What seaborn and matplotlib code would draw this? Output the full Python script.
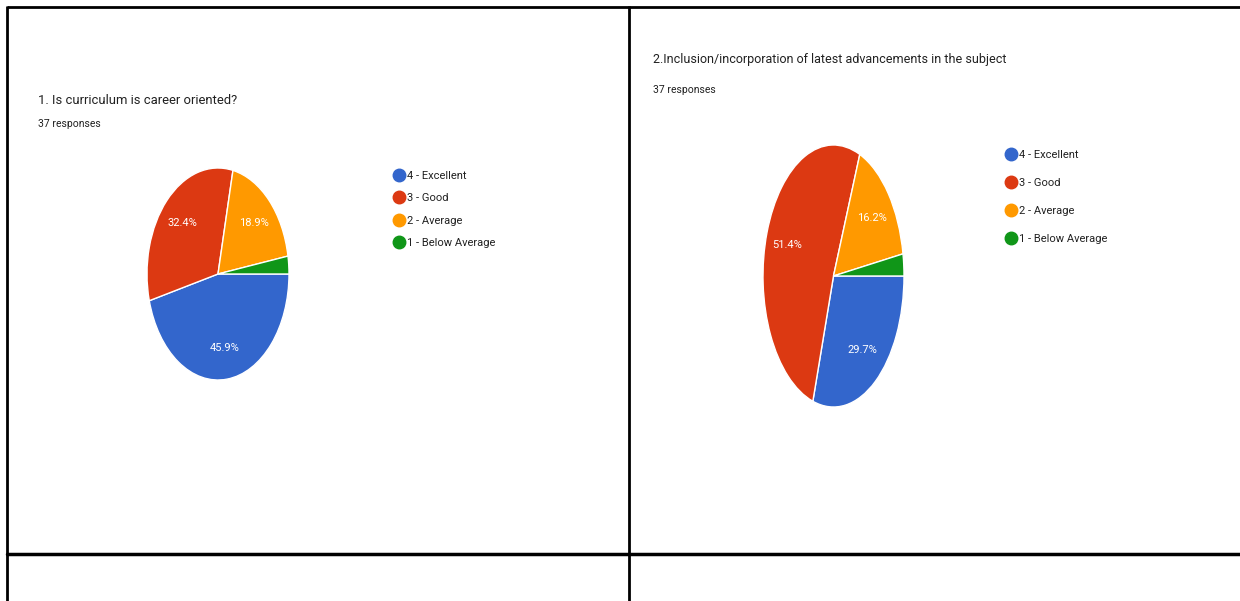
import seaborn as sns
from matplotlib import pyplot as plt
from matplotlib.lines import Line2D

# survey data (37 responses each)
categories = ["4 - Excellent", "3 - Good", "2 - Average", "1 - Below Average"]
q1_title = "1. Is curriculum is career oriented?"
q1_counts = [17, 12, 7, 1]
q2_title = "2.Inclusion/incorporation of latest advancements in the subject"
q2_counts = [11, 19, 6, 1]
responses_label = "37 responses"

W, H = 1240, 601
colors = sns.color_palette(["#3366CC", "#DC3912", "#FF9900", "#109618"])

sns.set_theme(style="white")
plt.rcParams["font.family"] = ["Roboto", "DejaVu Sans"]

fig = plt.figure(figsize=(W / 100, H / 100), dpi=100)
fig.patch.set_facecolor("white")


def px_axes(x0, y0, x1, y1):
    # axes box given in image pixels (origin top-left)
    return fig.add_axes([x0 / W, 1 - y1 / H, (x1 - x0) / W, (y1 - y0) / H])


def pct(p):
    return f"{p:.1f}%" if p > 5 else ""


def draw_pie(box, counts):
    ax = px_axes(*box)
    ax.pie(counts, colors=colors, startangle=0, counterclock=False,
           autopct=pct, pctdistance=0.7,
           wedgeprops=dict(edgecolor="white", linewidth=1),
           textprops=dict(color="white", fontsize=8))
    ax.set_aspect("auto")
    ax.set_xlim(-1, 1)
    ax.set_ylim(-1, 1)
    ax.axis("off")
    return ax


def fx(x):
    return x / W


def fy(y):
    return 1 - y / H


draw_pie((147, 168, 289, 380), q1_counts)
draw_pie((763, 145, 904, 407), q2_counts)

# titles
fig.text(fx(38), fy(100), q1_title, fontsize=9.4, color="#212121", va="center")
fig.text(fx(38), fy(124), responses_label, fontsize=7.5, color="#212121", va="center")
fig.text(fx(653), fy(59), q2_title, fontsize=9, color="#212121", va="center")
fig.text(fx(653), fy(90), responses_label, fontsize=7.5, color="#212121", va="center")

handles = [Line2D([], [], marker="o", ls="", markersize=9, markerfacecolor=c,
                  markeredgecolor=c) for c in colors]
for (x, y), spacing in [((393, 171), 1.11), ((1005, 150), 1.63)]:
    fig.legend(handles, categories, loc="upper left", bbox_to_anchor=(fx(x), fy(y)),
               bbox_transform=fig.transFigure, frameon=False, fontsize=8,
               borderpad=0, borderaxespad=0, handletextpad=0.3, handlelength=1,
               labelspacing=spacing, labelcolor="#212121")

# table borders around the screenshots
lw = 2
border = dict(color="black", lw=lw, transform=fig.transFigure, solid_capstyle="butt")
fig.add_artist(Line2D([fx(7), fx(1240)], [fy(7), fy(7)], **border))
fig.add_artist(Line2D([fx(7), fx(7)], [fy(6), fy(601)], **border))
fig.add_artist(Line2D([fx(629), fx(629)], [fy(6), fy(601)], **border))
fig.add_artist(Line2D([fx(7), fx(1240)], [fy(554), fy(554)], color="black", lw=2.5,
                      transform=fig.transFigure))

fig.savefig("out.png", dpi=100, facecolor="white")
